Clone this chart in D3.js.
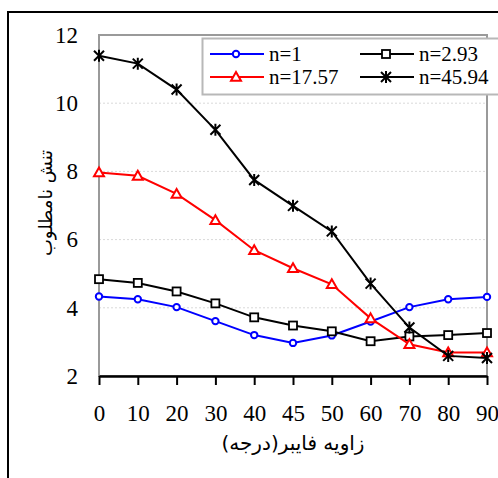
<!DOCTYPE html>
<html>
<head>
<meta charset="utf-8">
<script src="https://cdn.jsdelivr.net/npm/d3@7"></script>
<style>
  body { margin: 0; background: #fff; }
</style>
</head>
<body>
<script>
var angles = ["0", "10", "20", "30", "40", "45", "50", "60", "70", "80", "90"];
var yTicks = [2, 4, 6, 8, 10, 12];

var n1 = [4.33, 4.25, 4.02, 3.61, 3.2, 2.97, 3.19, 3.6, 4.02, 4.25, 4.32];
var n293 = [4.84, 4.73, 4.48, 4.13, 3.72, 3.48, 3.31, 3.02, 3.16, 3.2, 3.26];
var n1757 = [7.97, 7.87, 7.34, 6.57, 5.69, 5.16, 4.69, 3.69, 2.93, 2.69, 2.69];
var n4594 = [11.39, 11.16, 10.4, 9.22, 7.75, 6.99, 6.24, 4.71, 3.42, 2.59, 2.53];

var seriesNames = ["n=1", "n=2.93", "n=17.57", "n=45.94"];

var W = 498, H = 478;
var margin = {top: 35, right: 11, bottom: 102, left: 99};
var serif = "'Liberation Serif'";

var xScale = d3.scalePoint().domain(angles).range([margin.left, W - margin.right]);
var yScale = d3.scaleLinear().domain([2, 12]).range([H - margin.bottom, margin.top]);

var svg = d3.select("body").append("svg")
            .attr("width", W)
            .attr("height", H);

// outer frame
svg.append("rect")
   .attr("x", 8).attr("y", 12)
   .attr("width", 520).attr("height", 500)
   .attr("fill", "none").attr("stroke", "#000").attr("stroke-width", 2);

// grid
svg.append("g").selectAll("line")
   .data(yTicks.filter(function(d){ return d > 2 && d < 12; }))
   .enter().append("line")
   .attr("x1", margin.left).attr("x2", W - margin.right)
   .attr("y1", function(d){ return yScale(d); })
   .attr("y2", function(d){ return yScale(d); })
   .attr("stroke", "#d9d9d9").attr("stroke-dasharray", "2,2");

// plot border
svg.append("rect")
   .attr("x", margin.left).attr("y", margin.top)
   .attr("width", W - margin.right - margin.left)
   .attr("height", H - margin.bottom - margin.top)
   .attr("fill", "none").attr("stroke", "#9a9a9a").attr("stroke-width", 2);

// y axis
var yAxis = d3.axisLeft(yScale).tickValues(yTicks).tickSize(0).tickPadding(21);
var gy = svg.append("g").attr("transform", "translate(" + margin.left + ",0)").call(yAxis);
gy.attr("font-family", null).attr("font-size", null);
gy.select(".domain").remove();
gy.selectAll("text").attr("font-size", 23).attr("fill", "#000").style("font-family", serif);

// x axis
var xAxis = d3.axisBottom(xScale).tickSize(9).tickSizeOuter(0).tickPadding(20);
var gx = svg.append("g").attr("transform", "translate(0," + (H - margin.bottom) + ")").call(xAxis);
gx.attr("font-family", null).attr("font-size", null);
gx.select(".domain").attr("stroke", "#000").attr("stroke-width", 2.5);
gx.selectAll(".tick line").attr("stroke", "#000").attr("stroke-width", 2);
gx.selectAll("text").attr("font-size", 23).attr("fill", "#000").style("font-family", serif);

// axis titles
svg.append("text")
   .attr("x", 293).attr("y", 450)
   .attr("text-anchor", "middle")
   .attr("font-size", 20)
   .style("font-family", "'DejaVu Sans'")
   .attr("direction", "rtl")
   .text("زاویه فایبر(درجه)");

svg.append("text")
   .attr("transform", "translate(52,203) rotate(-90)")
   .attr("text-anchor", "middle")
   .attr("font-size", 18)
   .style("font-family", "'DejaVu Sans'")
   .text("تنش نامطلوب");

var line = d3.line()
             .x(function(d, i){ return xScale(angles[i]); })
             .y(function(d){ return yScale(d); });

function drawMarker(g, type, color) {
  if (type == "circle") {
    g.append("circle").attr("r", 3.2).attr("fill", "#fff").attr("stroke", color).attr("stroke-width", 2);
  } else if (type == "square") {
    g.append("rect").attr("x", -4).attr("y", -4).attr("width", 8).attr("height", 8)
     .attr("fill", "#fff").attr("stroke", color).attr("stroke-width", 1.8);
  } else if (type == "triangle") {
    g.append("path").attr("d", "M0,-5L5,3.8L-5,3.8Z")
     .attr("fill", "#fff").attr("stroke", color).attr("stroke-width", 2);
  } else {
    g.append("path").attr("d", "M-5,-5L5,5M-5,5L5,-5M0,-6L0,6")
     .attr("fill", "none").attr("stroke", color).attr("stroke-width", 2);
  }
}

var series = [
  {name: seriesNames[0], values: n1, color: "#0000ff", marker: "circle"},
  {name: seriesNames[1], values: n293, color: "#000", marker: "square"},
  {name: seriesNames[2], values: n1757, color: "#ff0000", marker: "triangle"},
  {name: seriesNames[3], values: n4594, color: "#000", marker: "star"}
];

series.forEach(function(s){
  svg.append("path").datum(s.values)
     .attr("d", line)
     .attr("fill", "none")
     .attr("stroke", s.color)
     .attr("stroke-width", 2);
  svg.append("g").selectAll("g").data(s.values).enter().append("g")
     .attr("transform", function(d, i){ return "translate(" + xScale(angles[i]) + "," + yScale(d) + ")"; })
     .each(function(){ drawMarker(d3.select(this), s.marker, s.color); });
});

// legend
var legend = svg.append("g");
legend.append("rect")
      .attr("x", 202.5).attr("y", 38.5).attr("width", 300).attr("height", 56)
      .attr("fill", "#fff").attr("stroke", "#b8b8b8").attr("stroke-width", 2);

var legendPos = [[210, 54], [360, 54], [210, 77], [360, 77]];
series.forEach(function(s, i){
  var p = legendPos[i];
  var g = legend.append("g");
  g.append("line").attr("x1", p[0]).attr("x2", p[0] + 54)
   .attr("y1", p[1]).attr("y2", p[1])
   .attr("stroke", s.color).attr("stroke-width", 2);
  var m = g.append("g").attr("transform", "translate(" + (p[0] + 26) + "," + p[1] + ")");
  drawMarker(m, s.marker, s.color);
  g.append("text").attr("x", p[0] + 59).attr("y", p[1] + 7)
   .attr("font-size", 21).style("font-family", serif).text(s.name);
});
</script>
</body>
</html>
